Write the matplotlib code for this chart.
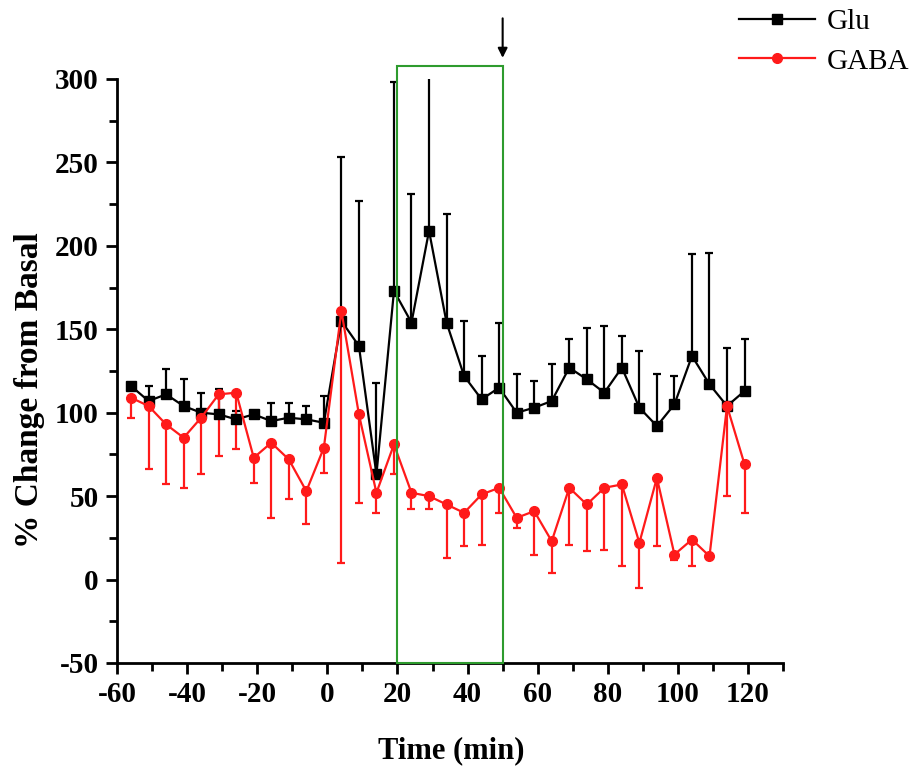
import numpy as np
import matplotlib.pyplot as plt
from matplotlib.patches import Rectangle

# sampling times (min)
time = [-56, -51, -46, -41, -36, -31, -26, -21, -16, -11, -6, -1,
        4, 9, 14, 19, 24, 29, 34, 39, 44, 49, 54, 59,
        64, 69, 74, 79, 84, 89, 94, 99, 104, 109, 114, 119]

# Glu: mean and upper error
glu = [116, 107, 111, 104, 100, 99, 96, 99, 95, 97, 96, 94,
       155, 140, 63, 173, 154, 209, 154, 122, 108, 115, 100, 103,
       107, 127, 120, 112, 127, 103, 92, 105, 134, 117, 104, 113]
glu_err = [2, 9, 15, 16, 12, 15, 5, 2, 11, 9, 8, 16,
           98, 87, 55, 125, 77, 92, 65, 33, 26, 39, 23, 16,
           22, 17, 31, 40, 19, 34, 31, 17, 61, 79, 35, 31]

# GABA: mean and lower error
gaba = [109, 104, 93, 85, 97, 111, 112, 73, 82, 72, 53, 79,
        161, 99, 52, 81, 52, 50, 45, 40, 51, 55, 37, 41,
        23, 55, 45, 55, 57, 22, 61, 15, 24, 14, 104, 69]
gaba_err = [12, 38, 36, 30, 34, 37, 34, 15, 45, 24, 20, 15,
            151, 53, 12, 18, 10, 8, 32, 20, 30, 15, 6, 26,
            19, 34, 28, 37, 49, 27, 41, 3, 16, 1, 54, 29]

plt.rcParams['font.family'] = ['Liberation Serif', 'DejaVu Serif']
plt.rcParams['axes.unicode_minus'] = False

fig = plt.figure(figsize=(9.17, 7.72), dpi=100)
ax = fig.add_axes([0.1276, 0.1412, 0.7264, 0.7565])

zeros = np.zeros(len(time))
ax.errorbar(time, glu, yerr=[zeros, glu_err], fmt='none', ecolor='black',
            elinewidth=1.6, capsize=3, capthick=1.6, zorder=2)
ax.errorbar(time, gaba, yerr=[gaba_err, zeros], fmt='none', ecolor='#ff1a1a',
            elinewidth=1.6, capsize=3, capthick=1.6, zorder=2)
ax.plot(time, glu, color='black', marker='s', markersize=6.5, lw=1.6,
        label='Glu', zorder=3)
ax.plot(time, gaba, color='#ff1a1a', marker='o', markersize=7, lw=1.6,
        label='GABA', zorder=3)

# highlighted window and arrow
box = Rectangle((20, -50), 30, 358, fill=False, edgecolor='#2e9b2e',
                lw=1.5, clip_on=False, zorder=4)
ax.add_patch(box)
ax.annotate('', xy=(50, 311), xytext=(50, 338),
            arrowprops=dict(arrowstyle='-|>', color='black', lw=1.5,
                            mutation_scale=14),
            annotation_clip=False)

ax.set_xlim(-60, 130)
ax.set_ylim(-50, 300)
ax.set_xticks(np.arange(-60, 121, 20))
ax.set_xticks(np.arange(-60, 131, 10), minor=True)
ax.set_yticks(np.arange(-50, 301, 50))
ax.set_yticks(np.arange(-50, 301, 25), minor=True)

for s in ['top', 'right']:
    ax.spines[s].set_visible(False)
for s in ['left', 'bottom']:
    ax.spines[s].set_linewidth(2)

ax.tick_params(which='major', length=8, width=2, labelsize=21, pad=5)
ax.tick_params(which='minor', length=5.5, width=2)
for lab in ax.get_xticklabels() + ax.get_yticklabels():
    lab.set_fontweight('bold')

ax.set_xlabel('Time (min)', fontsize=22, fontweight='bold')
ax.set_ylabel('% Change from Basal', fontsize=24, fontweight='bold')
ax.xaxis.set_label_coords(0.5015, -0.125)
ax.yaxis.set_label_coords(-0.108, 0.467)

fig.legend(loc='upper right', bbox_to_anchor=(1.004, 1.004), frameon=False,
           fontsize=21, handlelength=2.6, handletextpad=0.4, labelspacing=0.45,
           borderaxespad=0.0)

fig.savefig('out.png', dpi=100)
